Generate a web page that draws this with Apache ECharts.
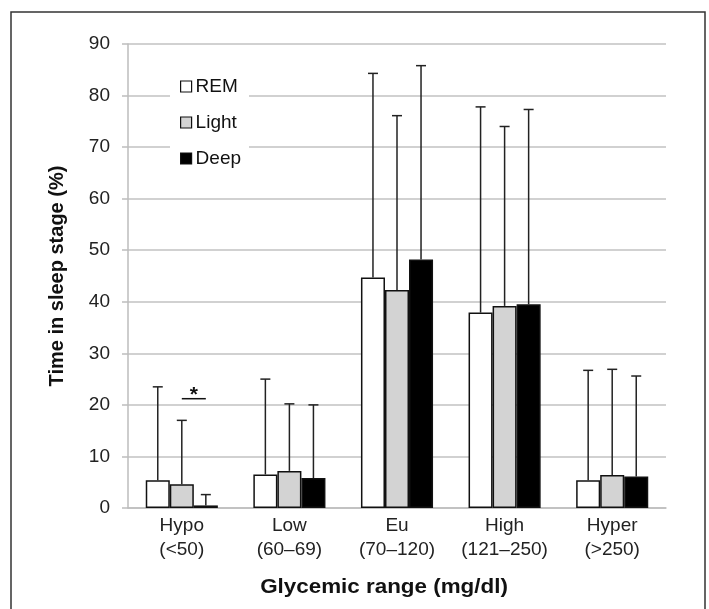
<!DOCTYPE html>
<html><head><meta charset="utf-8">
<script src="https://cdn.jsdelivr.net/npm/echarts@6/dist/echarts.min.js"></script>
<style>html,body{margin:0;padding:0;background:#fff}#c{width:709px;height:609px}</style>
</head><body><div id="c"></div>
<script>
const categories = ['Hypo\n(<50)', 'Low\n(60–69)', 'Eu\n(70–120)', 'High\n(121–250)', 'Hyper\n(>250)'];
const seriesNames = ['REM', 'Light', 'Deep'];
const remMean = [5.4, 6.5, 44.7, 37.9, 5.4];
const remUpper = [23.5, 25.0, 84.3, 77.8, 26.7];
const lightMean = [4.6, 7.2, 42.3, 39.2, 6.4];
const lightUpper = [17.0, 20.2, 76.1, 74.0, 26.9];
const deepMean = [0.5, 5.8, 48.2, 39.5, 6.1];
const deepUpper = [2.6, 20.0, 85.8, 77.3, 25.6];
const yTicks = [0, 10, 20, 30, 40, 50, 60, 70, 80, 90];
// significance bracket: category index, from series, to series, value
const sigCategory = 0;
const sigFrom = 1;
const sigTo = 2;
const sigValue = 21.2;
const sigLabel = '*';

const FONT = '"Liberation Sans", Arial, sans-serif';
const fills = ['#ffffff', '#d3d3d3', '#000000'];
const means = [remMean, lightMean, deepMean];
const uppers = [remUpper, lightUpper, deepUpper];
const GAP = 0.33;

const chart = echarts.init(document.getElementById('c'), null, {renderer: 'canvas'});

function barOffset(api, idx) {
  const band = api.size([1, 0])[0];
  const bw = band * (1 - GAP) / 3;
  return (idx - 1) * bw;
}

const barSeries = seriesNames.map((n, i) => ({
  name: n, type: 'bar', data: means[i],
  barGap: '0%', barCategoryGap: (GAP * 100) + '%',
  itemStyle: {color: fills[i], borderColor: '#111', borderWidth: 1.5},
  z: 2
}));

const errSeries = seriesNames.map((n, i) => ({
  type: 'custom', name: n + ' err',
  data: means[i].map((m, k) => [k, m, uppers[i][k]]),
  renderItem: function (params, api) {
    const base = api.coord([api.value(0), api.value(1)]);
    const top = api.coord([api.value(0), api.value(2)]);
    const x = base[0] + barOffset(api, i);
    const cap = 5;
    return {type: 'group', children: [
      {type: 'line', shape: {x1: x, y1: base[1], x2: x, y2: top[1]}, style: {stroke: '#222', lineWidth: 1.5}},
      {type: 'line', shape: {x1: x - cap, y1: top[1], x2: x + cap, y2: top[1]}, style: {stroke: '#222', lineWidth: 1.5}}
    ]};
  },
  z: 3, silent: true, tooltip: {show: false}
}));

const sigSeries = {
  type: 'custom', name: 'sig',
  data: [[sigCategory, sigValue]],
  renderItem: function (params, api) {
    const p = api.coord([api.value(0), api.value(1)]);
    const x1 = p[0] + barOffset(api, sigFrom);
    const x2 = p[0] + barOffset(api, sigTo);
    return {type: 'group', children: [
      {type: 'line', shape: {x1: x1, y1: p[1], x2: x2, y2: p[1]}, style: {stroke: '#111', lineWidth: 1.5}},
      {type: 'text', x: (x1 + x2) / 2, y: p[1] + 7, style: {text: sigLabel, fontSize: 21, fontWeight: 'bold', fontFamily: FONT, fill: '#111', align: 'center', verticalAlign: 'bottom'}}
    ]};
  },
  z: 4, silent: true
};

chart.setOption({
  animation: false,
  backgroundColor: '#fff',
  textStyle: {fontFamily: FONT},
  grid: {left: 128, right: 43, top: 44, bottom: 101},
  legend: {
    data: seriesNames.map(n => ({name: n, icon: 'rect'})), orient: 'vertical', left: 170, top: 73,
    itemWidth: 11, itemHeight: 11, itemGap: 17,
    padding: [4, 8, 4, 10],
    backgroundColor: '#ffffff',
    textStyle: {fontSize: 19, color: '#111', fontFamily: FONT, padding: [0, 0, 0, -1]},
    itemStyle: {borderWidth: 1.2}
  },
  xAxis: {
    type: 'category', data: categories,
    axisLine: {show: true, lineStyle: {color: '#bdbdbd', width: 1.5}},
    axisTick: {show: false},
    axisLabel: {interval: 0, fontSize: 19, color: '#222', lineHeight: 24, margin: 6, fontFamily: FONT}
  },
  yAxis: {
    type: 'value', min: 0, max: 90, interval: 10,
    name: 'Time in sleep stage (%)', nameLocation: 'middle', nameGap: 61,
    nameTextStyle: {fontSize: 20, fontWeight: 'bold', color: '#111', fontFamily: FONT},
    axisLine: {show: true, lineStyle: {color: '#bdbdbd', width: 1.5}},
    axisTick: {show: true, length: 6, lineStyle: {color: '#bdbdbd', width: 1.5}},
    axisLabel: {fontSize: 19, color: '#222', margin: 18, fontFamily: FONT,
      formatter: v => (yTicks.indexOf(v) >= 0 ? String(v) : '')},
    splitLine: {show: true, lineStyle: {color: '#c2c2c2', width: 1.5}}
  },
  graphic: [
    {type: 'rect', shape: {x: 11, y: 12, width: 694, height: 640}, style: {fill: 'none', stroke: '#333', lineWidth: 1.5}, silent: true, z: -1},
    {type: 'text', x: 384, y: 587, scaleX: 1.12, style: {text: 'Glycemic range (mg/dl)', fontSize: 20, fontWeight: 'bold', fill: '#111', fontFamily: FONT, align: 'center', verticalAlign: 'middle'}}
  ],
  series: [...barSeries, ...errSeries, sigSeries]
});
</script></body></html>
